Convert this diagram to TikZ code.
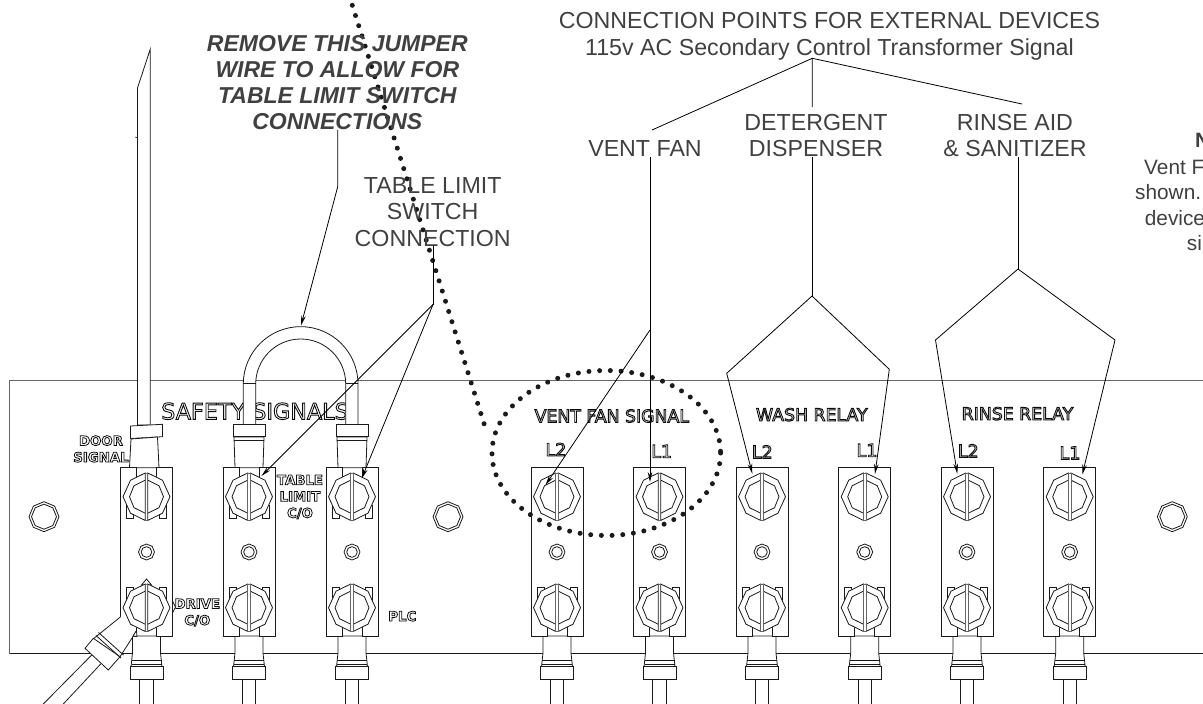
\documentclass[tikz,border=0pt]{standalone}
\usepackage{fontspec}
\setmainfont{Liberation Sans}
\newfontfamily\lblfont{DejaVu Sans}
\usetikzlibrary{arrows.meta}
\definecolor{txt}{HTML}{404040}
\definecolor{dk}{HTML}{1A1A1A}
\tikzset{
  part/.style={draw=dk,fill=white,line width=0.8pt,line join=miter},
  edge/.style={draw=dk,line width=0.8pt},
  greyedge/.style={draw=black!60,line width=1pt},
  leader/.style={draw=black,line width=0.8pt},
  leadarrow/.style={leader,-{Stealth[length=10pt,width=4.5pt]}},
  dotted path/.style={draw=dk,line width=5pt,line cap=round,dash pattern=on 0pt off 10.7pt},
  note/.style={text=txt,inner sep=0pt,anchor=base,align=center,font=\fontsize{23.2}{26.2}\selectfont},
  notebi/.style={note,font=\fontsize{23}{26}\selectfont\bfseries\itshape},
  noteleft/.style={text=txt,inner sep=0pt,anchor=base west,font=\fontsize{20.8}{25.5}\selectfont},
  outl/.style={inner sep=0pt,anchor=base,align=center,font=\fontsize{13}{16.5}\selectfont},
}
\newcommand\outline[2]{{\lblfont\fontsize{#1}{16.5}\selectfont\special{pdf:code 2 Tr 0.9 w 1 g 0.05 G}#2\special{pdf:code 0 Tr}}}
\newcommand\outlineb[2]{{\lblfont\bfseries\fontsize{#1}{16.5}\selectfont\special{pdf:code 2 Tr 0.8 w 1 g 0.05 G}#2\special{pdf:code 0 Tr}}}
\newcommand\poly[4]{\draw[part] plot[samples=#4+1,domain=0:360] ({#1+#3*sin(\x)},{#2+#3*cos(\x)}) -- cycle;}
\newcommand\nut[1]{%
  \begin{scope}[shift={(0,#1)}]
  \draw[part] (-1.3,-23.7)--(-16,-16.5)--(-23.5,0)--(-16,16.5)--(-1.3,23.7)--cycle;
  \draw[part] (1.3,-23.7)--(16,-16.5)--(23.5,0)--(16,16.5)--(1.3,23.7)--cycle;
  \draw[edge] (-1.3,-16.5)--(-12.5,-11)--(-17,0)--(-12.5,11)--(-1.3,16.5);
  \draw[edge] (1.3,-16.5)--(12.5,-11)--(17,0)--(12.5,11)--(1.3,16.5);
  \draw[greyedge,fill=white,line width=.8pt] (-1.3,-23.7) rectangle (1.3,23.7);
  \end{scope}}
\newcommand\tabs[2]{\draw[part] (-20,#1) rectangle (-13,#2); \draw[part] (13,#1) rectangle (20,#2);}
\newcommand\bottomstub{%
  \draw[edge] (-6.7,679) -- (-6.7,704) (6.7,679) -- (6.7,704);
  \draw[part] (-14,636) -- (-14,653) -- (-15.5,666.7) -- (15.5,666.7) -- (14,653) -- (14,636) -- cycle;
  \draw[edge] (-15,660) -- (15,660) (-15,664) -- (15,664);
  \draw[part] (-16.5,666.7) rectangle (16.5,679.3);}
\newcommand\topstub{%
  \draw[part] (-15,437) -- (-14,467.7) -- (14,467.7) -- (15,437) -- cycle;
  \draw[edge] (-15,440.5) -- (15,440.5);
  \draw[part] (-16,424.3) rectangle (16,436.7);}
\newcommand\body[1]{%
  \filldraw[part] (-26,#1) -- (26,#1) -- (26,636.3) -- (10,636.3) -- (10,620) -- (-10,620) -- (-10,636.3) -- (-26,636.3) -- cycle;}
\newcommand\openbody{%
  \filldraw[part] (-26,467.7) -- (-10,467.7) -- (-10,480) -- (10,480) -- (10,467.7) -- (26,467.7) -- (26,636.3) -- (10,636.3) -- (10,620) -- (-10,620) -- (-10,636.3) -- (-26,636.3) -- cycle;}
\newcommand\screw{\poly{0}{552}{8}{8}\poly{0}{552}{5.3}{8}}
\newcommand\plainterm[1]{%
  \begin{scope}[shift={(#1,0)}]
  \bottomstub
  \body{467.7}
  \tabs{587}{600}
  \screw
  \nut{496.7}\nut{607.7}
  \end{scope}}
\newcommand\wireterm[1]{%
  \begin{scope}[shift={(#1,0)}]
  \bottomstub
  \topstub
  \openbody
  \tabs{505}{518}\tabs{587}{600}
  \screw
  \nut{496.7}\nut{607.7}
  \end{scope}}
\begin{document}
\begin{tikzpicture}[x=1pt,y=-1pt]
\useasboundingbox (0,0) rectangle (1203,704);
\clip (0,0) rectangle (1203,704);
% panel
\draw[greyedge] (1203,380) -- (9.7,380) -- (9.7,653.7);
\draw[edge] (9.7,653.7) -- (1203,653.7);
% panel labels
\node[outl] (safety) at (255,419.3) {\outline{22.3}{SAFETY SIGNALS}};
\node[outl] (doorsig) at (101,462) {\outlineb{13.3}{DOOR}\\\outlineb{13.3}{SIGNAL}};
\node[outl] (tablelim) at (300,517.7) {\outlineb{13.3}{TABLE}\\\outlineb{13.3}{LIMIT}\\\outlineb{13.3}{C/O}};
\node[outl] (drive) at (197.3,625) {\outlineb{13.3}{DRIVE}\\\outlineb{13.3}{C/O}};
\node[outl] (plc) at (402.3,621) {\outlineb{13.3}{PLC}};
\node[outl] (ventsig) at (611.8,422.3) {\outline{17.3}{VENT FAN SIGNAL}};
\node[outl] (wash) at (811.8,421) {\outline{17.3}{WASH RELAY}};
\node[outl] (rinse) at (1017.5,420) {\outline{17.3}{RINSE RELAY}};
\node[outl] (vl2) at (556,456) {\outline{17.5}{L2}};
\node[outl] (vl1) at (661.7,457.7) {\outline{17.5}{L1}};
\node[outl] (wl2) at (762.3,458.3) {\outline{17.5}{L2}};
\node[outl] (wl1) at (867,456.7) {\outline{17.5}{L1}};
\node[outl] (rl2) at (968.3,457.3) {\outline{17.5}{L2}};
\node[outl] (rl1) at (1070,459.3) {\outline{17.5}{L1}};
% bolts
\poly{44}{516.7}{15}{8}\poly{44}{516.7}{12.5}{8}
\poly{448}{516.7}{15}{8}\poly{448}{516.7}{12.5}{8}
\poly{1172.3}{516.7}{15}{8}\poly{1172.3}{516.7}{12.5}{8}
% jumper
\draw[part] (243.3,424.5) -- (243.3,384) arc[start angle=180,end angle=360,radius=57.35] -- (358,424.5) -- (345.7,424.5) -- (345.7,384) arc[start angle=0,end angle=-180,radius=45] -- (255.7,424.5) -- cycle;
\draw[edge] (243.3,383.5) -- (255.7,383.5) (345.7,383.5) -- (358,383.5);
% door signal wire
\draw[part] (150.3,425) -- (150.3,49) -- (137.4,88.3) -- (137.4,425) -- cycle;
\draw[edge,line width=.5pt] (135.2,137) -- (137.4,138);
% terminal 1
\begin{scope}[shift={(146.5,0)}]
  \bottomstub
  \draw[part] (-16,426) -- (16,424.3) -- (16,436.7) -- (-16,438.5) -- cycle;
  \draw[part] (-15.5,439) -- (-17,467.7) -- (12.5,467.7) -- (11,437) -- cycle;
  \openbody
  \tabs{505}{518}\tabs{587}{600}
  \screw
  \draw[part] (-5,585) -- (0,579) -- (5,585) -- cycle;
  \draw[part] (26,601) -- (29,607) -- (26,613) -- cycle;
\end{scope}
% drive wire
\draw[edge] (91.7,655) -- (43.3,704) (100.7,664) -- (63.3,704);
\path[fill=white] (120.7,616.7) -- (94,638.3) -- (120,656.7) -- (136.7,630.7) -- cycle;
\draw[edge] (120.7,616.7) -- (94,638.3) (136.7,630.7) -- (120,656.7);
\draw[part] (93.3,638.3) -- (85,648.3) -- (108.3,670) -- (120,656.7) -- cycle;
\draw[edge] (96,635.5) -- (121,658) (98.5,632.5) -- (123.5,655);
\draw[part] (133,636) -- (136.5,630.5) -- (137,636.5) -- cycle;
\begin{scope}[shift={(146.5,0)}]\nut{496.7}\nut{607.7}\end{scope}
% terminals
\wireterm{249}
\wireterm{352}
\plainterm{557}
\plainterm{659.5}
\plainterm{762}
\plainterm{864.7}
\plainterm{967}
\plainterm{1069.7}
% dotted
\draw[dotted path] (352.3,5.3) -- (487,433);
\draw[dotted path] (606.3,453) ellipse[x radius=114.3,y radius=82.5];
% texts
\node[note] (conn) at (829.5,55) {CONNECTION POINTS FOR EXTERNAL DEVICES\\115v AC Secondary Control Transformer Signal};
\node[note] (ventfan) at (645,156.7) {VENT FAN};
\node[note] (deterg) at (816,156.7) {DETERGENT\\DISPENSER};
\node[note] (rinseaid) at (1015,156.7) {RINSE AID\\\& SANITIZER};
\node[notebi] (remove) at (337.3,129.8) {REMOVE THIS JUMPER\\WIRE TO ALLOW FOR\\TABLE LIMIT SWITCH\\CONNECTIONS};
\node[note] (tls) at (432.7,246) {TABLE LIMIT\\SWITCH\\CONNECTION};
\node[noteleft,font=\fontsize{20.8}{25}\selectfont\bfseries] (nt1) at (1195,147.7) {N};
\node[noteleft] (nt2) at (1144,174) {Vent F};
\node[noteleft] (nt3) at (1135,199.3) {shown.};
\node[noteleft] (nt4) at (1144.7,225) {device};
\node[noteleft] (nt5) at (1186.7,250.7) {si};
% leader coordinates
\coordinate (top) at (812.3,58.3);
\coordinate (t1) at (652,130);
\coordinate (t2) at (812.3,107);
\coordinate (t3) at (1022,104);
\coordinate (vf0) at (650,157);
\coordinate (vfm) at (650,330);
\coordinate (vfa) at (650,482);
\coordinate (vfb) at (545.5,485);
\coordinate (d0) at (812,157);
\coordinate (da) at (812,296);
\coordinate (dl) at (726.7,373.3);
\coordinate (dr) at (889.3,369.3);
\coordinate (dla) at (752.3,473.7);
\coordinate (dra) at (875,474);
\coordinate (r0) at (1018,157);
\coordinate (ra) at (1018,269);
\coordinate (rl) at (935.5,340);
\coordinate (rr) at (1115,340);
\coordinate (rla) at (957.3,473.7);
\coordinate (rra) at (1082.3,474.5);
\coordinate (j0) at (337.7,130);
\coordinate (j1) at (337.7,186.7);
\coordinate (ja) at (301,325.5);
\coordinate (l0) at (433,246);
\coordinate (l1) at (433,304.5);
\coordinate (la) at (261.5,476);
\coordinate (lb) at (361.7,478.5);
% leaders
\draw[leader] (t1) -- (top) -- (t2) (top) -- (t3);
\draw[leadarrow] (vf0) -- (vfa);
\draw[leadarrow] (vfm) -- (vfb);
\draw[leader] (d0) -- (da);
\draw[leadarrow] (da) -- (dl) -- (dla);
\draw[leadarrow] (da) -- (dr) -- (dra);
\draw[leader] (r0) -- (ra);
\draw[leadarrow] (ra) -- (rl) -- (rla);
\draw[leadarrow] (ra) -- (rr) -- (rra);
\draw[leadarrow] (j0) -- (j1) -- (ja);
\draw[leader] (l0) -- (l1);
\draw[leadarrow] (l1) -- (la);
\draw[leadarrow] (l1) -- (lb);
\end{tikzpicture}
\end{document}
